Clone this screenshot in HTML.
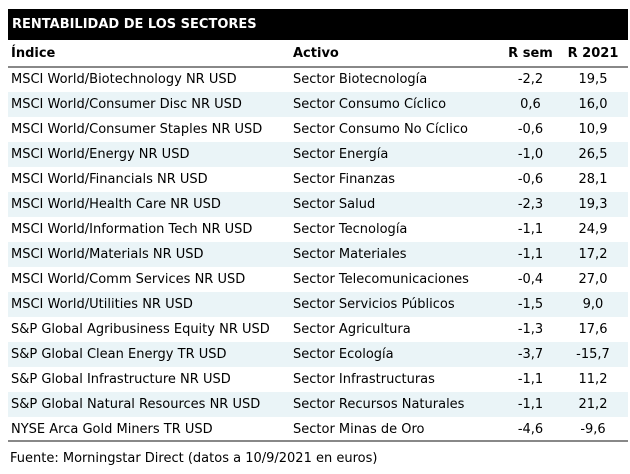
<!DOCTYPE html>
<html><head><meta charset="utf-8"><style>
body{margin:0;background:#fff;width:630px;height:474px;overflow:hidden;font-family:"DejaVu Sans",Verdana,sans-serif;font-size:13px;color:#000}
.t{position:absolute;left:8px;top:9px;width:620px;height:31px;background:#000;color:#fff;font-weight:bold;font-size:13px;line-height:31px;padding-left:4px;box-sizing:border-box}
.r{position:absolute;left:8px;width:620px;height:25px;line-height:26px}
.r span{position:absolute;white-space:nowrap}
.a{left:3px}.b{left:285px}.c{left:495px;width:55px;text-align:center}.d{left:555px;width:60px;text-align:center}
.h{font-weight:bold;top:41px;border-bottom:2px solid #888}
.alt{background:#eaf4f7}
.f{position:absolute;left:10px;top:451px;font-size:13px}
</style></head><body>
<div class="t">RENTABILIDAD DE LOS SECTORES</div>
<div class="r h" style="height:25px"><span class="a">Índice</span><span class="b">Activo</span><span class="c">R sem</span><span class="d">R 2021</span></div>
<div class="r" style="top:67px"><span class="a">MSCI World/Biotechnology NR USD</span><span class="b">Sector Biotecnología</span><span class="c">-2,2</span><span class="d">19,5</span></div>
<div class="r alt" style="top:92px"><span class="a">MSCI World/Consumer Disc NR USD</span><span class="b">Sector Consumo Cíclico</span><span class="c">0,6</span><span class="d">16,0</span></div>
<div class="r" style="top:117px"><span class="a">MSCI World/Consumer Staples NR USD</span><span class="b">Sector Consumo No Cíclico</span><span class="c">-0,6</span><span class="d">10,9</span></div>
<div class="r alt" style="top:142px"><span class="a">MSCI World/Energy NR USD</span><span class="b">Sector Energía</span><span class="c">-1,0</span><span class="d">26,5</span></div>
<div class="r" style="top:167px"><span class="a">MSCI World/Financials NR USD</span><span class="b">Sector Finanzas</span><span class="c">-0,6</span><span class="d">28,1</span></div>
<div class="r alt" style="top:192px"><span class="a">MSCI World/Health Care NR USD</span><span class="b">Sector Salud</span><span class="c">-2,3</span><span class="d">19,3</span></div>
<div class="r" style="top:217px"><span class="a">MSCI World/Information Tech NR USD</span><span class="b">Sector Tecnología</span><span class="c">-1,1</span><span class="d">24,9</span></div>
<div class="r alt" style="top:242px"><span class="a">MSCI World/Materials NR USD</span><span class="b">Sector Materiales</span><span class="c">-1,1</span><span class="d">17,2</span></div>
<div class="r" style="top:267px"><span class="a">MSCI World/Comm Services NR USD</span><span class="b">Sector Telecomunicaciones</span><span class="c">-0,4</span><span class="d">27,0</span></div>
<div class="r alt" style="top:292px"><span class="a">MSCI World/Utilities NR USD</span><span class="b">Sector Servicios Públicos</span><span class="c">-1,5</span><span class="d">9,0</span></div>
<div class="r" style="top:317px"><span class="a">S&amp;P Global Agribusiness Equity NR USD</span><span class="b">Sector Agricultura</span><span class="c">-1,3</span><span class="d">17,6</span></div>
<div class="r alt" style="top:342px"><span class="a">S&amp;P Global Clean Energy TR USD</span><span class="b">Sector Ecología</span><span class="c">-3,7</span><span class="d">-15,7</span></div>
<div class="r" style="top:367px"><span class="a">S&amp;P Global Infrastructure NR USD</span><span class="b">Sector Infrastructuras</span><span class="c">-1,1</span><span class="d">11,2</span></div>
<div class="r alt" style="top:392px"><span class="a">S&amp;P Global Natural Resources NR USD</span><span class="b">Sector Recursos Naturales</span><span class="c">-1,1</span><span class="d">21,2</span></div>
<div class="r" style="top:417px;border-bottom:2px solid #888;height:23px;line-height:25px"><span class="a">NYSE Arca Gold Miners TR USD</span><span class="b">Sector Minas de Oro</span><span class="c">-4,6</span><span class="d">-9,6</span></div>
<div class="f">Fuente: Morningstar Direct (datos a 10/9/2021 en euros)</div>
</body></html>
